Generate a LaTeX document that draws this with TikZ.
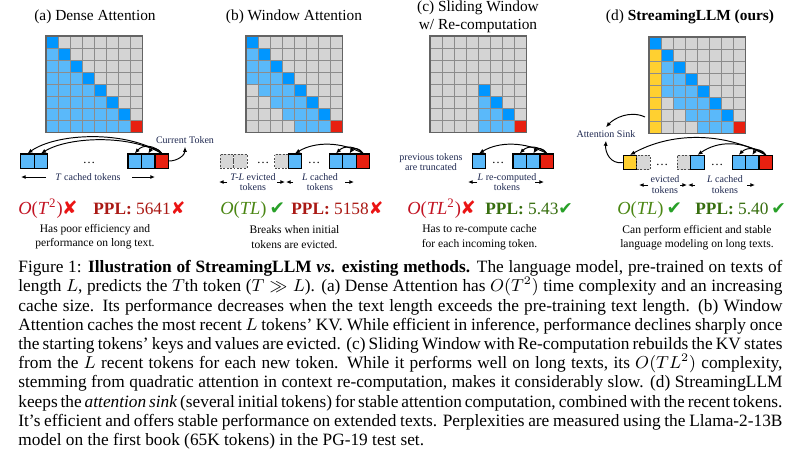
\documentclass[tikz,border=0pt]{standalone}
\usepackage[no-math]{fontspec}
\setmainfont{Liberation Serif}
\newfontfamily\symfont{DejaVu Sans}
\usetikzlibrary{arrows.meta}

\definecolor{cD}{RGB}{0,150,255}
\definecolor{cL}{RGB}{90,185,250}
\definecolor{cG}{RGB}{212,212,212}
\definecolor{cR}{RGB}{232,32,16}
\definecolor{cY}{RGB}{255,208,48}
\definecolor{gridline}{RGB}{140,140,140}
\definecolor{gridborder}{RGB}{100,100,100}
\definecolor{lbl}{RGB}{30,40,80}
\definecolor{badO}{RGB}{195,20,35}
\definecolor{badP}{RGB}{170,25,20}
\definecolor{xred}{RGB}{235,20,20}
\definecolor{goodO}{RGB}{75,135,20}
\definecolor{goodP}{RGB}{55,110,15}
\definecolor{tick}{RGB}{40,160,40}
\definecolor{evgrey}{RGB}{215,215,215}

\newcommand\drawgrid[3]{%
  \foreach \gi in {0,...,7}{%
    \foreach \gj in {0,...,7}{%
      \pgfmathtruncatemacro\gdiff{\gi-\gj}%
      \def\gc{cG}%
      \ifnum\gdiff=0 \def\gc{cD}\fi
      \if#1a\ifnum\gdiff>0 \def\gc{cL}\fi\fi
      \if#1b\ifnum\gdiff>0 \ifnum\gdiff<4 \def\gc{cL}\fi\fi\fi
      \if#1c\ifnum\gj<4 \def\gc{cG}\else\ifnum\gdiff>0 \def\gc{cL}\fi\fi\fi
      \if#1d\ifnum\gdiff>0 \ifnum\gdiff<4 \def\gc{cL}\fi\fi\ifnum\gj=0 \ifnum\gi>0 \def\gc{cY}\fi\fi\fi
      \ifnum\gi=7 \ifnum\gj=7 \def\gc{cR}\fi\fi
      \filldraw[fill=\gc,draw=gridline,line width=0.35pt] ({#2+\gj*12.1},{#3+\gi*12.1}) rectangle +(12.1,12.1);
    }%
  }%
  \draw[draw=gridborder,line width=0.6pt] (#2,#3) rectangle +(96.8,96.8);
}

\begin{document}
\begin{tikzpicture}[x=0.52pt,y=-0.52pt,
  title/.style={font=\fontsize{8}{9.3}\selectfont, align=center, inner sep=0pt},
  tok/.style={draw=black, line width=0.55pt, minimum width=7pt, minimum height=7.3pt, inner sep=0pt},
  evict/.style={draw=black!70, dash pattern=on 1pt off 0.8pt, line width=0.5pt, fill=evgrey, minimum width=7pt, minimum height=7.3pt, inner sep=0pt},
  lab/.style={font=\fontsize{5.2}{5.6}\selectfont, text=lbl, align=center, inner sep=0pt},
  dotsn/.style={font=\fontsize{6.5}{6.5}\selectfont, inner sep=0pt, anchor=base},
  desc/.style={font=\fontsize{6}{7.6}\selectfont, align=center, inner sep=0pt},
  metric/.style={font=\fontsize{9}{10}\selectfont, inner sep=0pt, anchor=base west},
  bigo/.style={font=\fontsize{9.6}{10}\selectfont, inner sep=0pt, anchor=base west},
  arc/.style={-{Latex[length=2.6pt,width=2.2pt]}, line width=0.5pt},
  lblarrow/.style={-{Latex[length=2.4pt,width=2pt]}, line width=0.5pt}
]
\fill[white] (0,0) rectangle (799,456);
\useasboundingbox (0,0) rectangle (799,456);

% titles
\node[title] (ta) at (95,17) {(a) Dense Attention};
\node[title] (tb) at (294,17) {(b) Window Attention};
\node[title] (tc) at (478,17) {(c) Sliding Window\\w/ Re-computation};
\node[title] (td) at (690,17) {(d) \textbf{StreamingLLM (ours)}};

% grids
\drawgrid{a}{46}{36}
\drawgrid{b}{246}{36}
\drawgrid{c}{430}{36}
\drawgrid{d}{649}{37}

% ---------- (a) tokens
\node[tok,fill=cL] (a1) at (27.5,161) {};
\node[tok,fill=cL] (a2) at (41,161) {};
\node[dotsn] (adots) at (89,163.5) {…};
\node[tok,fill=cL] (a3) at (134.75,161) {};
\node[tok,fill=cL] (a4) at (148.25,161) {};
\node[tok,fill=cR] (ar) at (161.75,161) {};
\draw[arc] (ar.north) .. controls +(-35,-23) and +(30,-21) .. (a1.north);
\draw[arc] (ar.north) .. controls +(-32,-19) and +(28,-17) .. (a2.north);
\draw[arc] (ar.north) .. controls +(-8,-9) and +(8,-9) .. (a3.north);
\draw[arc] (ar.north) .. controls +(-4,-6) and +(4,-6) .. (a4.north);
\node[lab,inner sep=1.5pt] (ctok) at (185,140) {Current Token};
\draw[arc] (ar.east) .. controls +(9,0) and +(0,8) .. (ctok.south);
\node[lab] (alab) at (88,177) {\textit{T} cached tokens};
\coordinate (aL1) at (46,177); \coordinate (aL2) at (21,177);
\coordinate (aR1) at (132,177); \coordinate (aR2) at (155,177);
\draw[lblarrow] (aL1) -- (aL2);
\draw[lblarrow] (aR1) -- (aR2);

% ---------- (b) tokens
\node[evict] (be1) at (226.75,161) {};
\node[evict] (be2) at (240.25,161) {};
\node[dotsn] (bdots1) at (263,163.5) {…};
\node[evict] (be3) at (281.5,161) {};
\node[tok,fill=cL] (bs) at (295,161) {};
\node[dotsn] (bdots2) at (314,163.5) {…};
\node[tok,fill=cL] (b3) at (336,161) {};
\node[tok,fill=cL] (b4) at (349.5,161) {};
\node[tok,fill=cR] (br) at (363,161) {};
\draw[arc] (br.north) .. controls +(-22,-12) and +(20,-12) .. (bs.north);
\draw[arc] (br.north) .. controls +(-8,-8) and +(8,-8) .. (b3.north);
\draw[arc] (br.north) .. controls +(-4,-6) and +(4,-6) .. (b4.north);
\node[lab] (blab1) at (253,182) {\textit{T-L} evicted\\tokens};
\node[lab] (blab2) at (320,182) {\textit{L} cached\\tokens};
\coordinate (bA1) at (227,182); \coordinate (bA2) at (219,182);
\coordinate (bA3) at (277,182); \coordinate (bA4) at (285,182);
\coordinate (bA5) at (293,182); \coordinate (bA6) at (286,182);
\coordinate (bA7) at (345,182); \coordinate (bA8) at (354,182);
\draw[lblarrow] (bA1) -- (bA2);
\draw[lblarrow] (bA3) -- (bA4);
\draw[lblarrow] (bA5) -- (bA6);
\draw[lblarrow] (bA7) -- (bA8);

% ---------- (c) tokens
\node[lab] (clabp) at (431,162) {previous tokens\\are truncated};
\node[tok,fill=cL] (c1) at (479,161) {};
\node[dotsn] (cdots) at (498,163.5) {…};
\node[tok,fill=cL] (c3) at (519.75,161) {};
\node[tok,fill=cL] (c4) at (533.25,161) {};
\node[tok,fill=cR] (cr) at (546.75,161) {};
\draw[arc] (cr.north) .. controls +(-22,-12) and +(20,-12) .. (c1.north);
\draw[arc] (cr.north) .. controls +(-8,-8) and +(8,-8) .. (c3.north);
\draw[arc] (cr.north) .. controls +(-4,-6) and +(4,-6) .. (c4.north);
\node[lab] (clab) at (507,182) {\textit{L} re-computed\\tokens};
\coordinate (cA1) at (477,182); \coordinate (cA2) at (468,182);
\coordinate (cA3) at (535,182); \coordinate (cA4) at (544,182);
\draw[lblarrow] (cA1) -- (cA2);
\draw[lblarrow] (cA3) -- (cA4);

% ---------- (d) tokens
\node[tok,fill=cY] (dy) at (630,162.5) {};
\node[evict] (de1) at (643.5,162.5) {};
\node[dotsn] (ddots1) at (662,165) {…};
\node[evict] (de2) at (684,162.5) {};
\node[tok,fill=cL] (ds) at (697.5,162.5) {};
\node[dotsn] (ddots2) at (717,165) {…};
\node[tok,fill=cL] (d3) at (738.75,162.5) {};
\node[tok,fill=cL] (d4) at (752.25,162.5) {};
\node[tok,fill=cR] (dr) at (765.75,162.5) {};
\draw[arc] (dr.north) .. controls +(-45,-24) and +(40,-22) .. (dy.north);
\draw[arc] (dr.north) .. controls +(-24,-15) and +(20,-14) .. (ds.north);
\draw[arc] (dr.north) .. controls +(-8,-8) and +(8,-8) .. (d3.north);
\draw[arc] (dr.north) .. controls +(-4,-6) and +(4,-6) .. (d4.north);
\node[lab,inner sep=1.5pt] (asink) at (606,134) {Attention Sink};
\coordinate (gsrc) at (645,117);
\draw[arc] (gsrc) .. controls +(-15,-7) and +(8,-9) .. (asink.north);
\draw[arc] (dy.west) .. controls +(-12,2) and +(-1,12) .. (asink.south);
\node[lab] (dlab1) at (665,184.5) {evicted\\tokens};
\node[lab] (dlab2) at (725,184.5) {\textit{L} cached\\tokens};
\coordinate (dA1) at (648,185); \coordinate (dA2) at (639,185);
\coordinate (dA3) at (680,185); \coordinate (dA4) at (687,185);
\coordinate (dA5) at (695,185); \coordinate (dA6) at (688,185);
\coordinate (dA7) at (747,185); \coordinate (dA8) at (755,185);
\draw[lblarrow] (dA1) -- (dA2);
\draw[lblarrow] (dA3) -- (dA4);
\draw[lblarrow] (dA5) -- (dA6);
\draw[lblarrow] (dA7) -- (dA8);

% ---------- metrics
\node[bigo] (ma1) at (18,214) {\color{badO}\textit{O}(\textit{T}\textsuperscript{2})\kern-0.3pt{\symfont\color{xred}✘}};
\node[metric] (ma2) at (93,214) {\color{badP}\textbf{PPL:} 5641{\symfont\color{xred}✘}};
\node[bigo] (mb1) at (220,214) {\color{goodO}\textit{O}(\textit{TL})\,{\symfont\color{tick}✔}};
\node[metric] (mb2) at (291,214) {\color{badP}\textbf{PPL:} 5158{\symfont\color{xred}✘}};
\node[bigo] (mc1) at (407,214) {\color{badO}\textit{O}(\textit{TL}\textsuperscript{2})\kern-0.3pt{\symfont\color{xred}✘}};
\node[metric] (mc2) at (485,214) {\color{goodP}\textbf{PPL:} 5.43{\symfont\color{tick}✔}};
\node[bigo] (md1) at (617,214) {\color{goodO}\textit{O}(\textit{TL})\,{\symfont\color{tick}✔}};
\node[metric] (md2) at (695,214) {\color{goodP}\textbf{PPL:} 5.40\,{\symfont\color{tick}✔}};

% ---------- descriptions
\node[desc] (da) at (95,236.5) {Has poor efficiency and\\performance on long text.};
\node[desc] (db) at (294.5,237) {Breaks when initial\\tokens are evicted.};
\node[desc] (dc) at (479.5,237.5) {Has to re-compute cache\\for each incoming token.};
\node[desc] (dd) at (697,237.5) {Can perform efficient and stable\\language modeling on long texts.};

% ---------- caption
\node[anchor=north west, inner sep=0pt, text width=397.3pt, align=justify,
      font=\fontsize{9}{10}\selectfont] (cap) at (18,260)
{\hyphenpenalty=10000 \tolerance=10000 \relax
Figure 1: \textbf{Illustration of StreamingLLM \textit{vs}. existing methods.} The language model, pre-trained on texts of\linebreak
length $L$, predicts the $T$th token ($T \gg L$). (a) Dense Attention has $O(T^2)$ time complexity and an increasing\linebreak
cache size. Its performance decreases when the text length exceeds the pre-training text length. (b) Window\linebreak
Attention caches the most recent $L$ tokens' KV. While efficient in inference, performance declines sharply once\linebreak
the starting tokens' keys and values are evicted. (c) Sliding Window with Re-computation rebuilds the KV states\linebreak
from the $L$ recent tokens for each new token. While it performs well on long texts, its $O(TL^2)$ complexity,\linebreak
stemming from quadratic attention in context re-computation, makes it considerably slow. (d) StreamingLLM\linebreak
keeps the \textit{attention sink} (several initial tokens) for stable attention computation, combined with the recent tokens.\linebreak
It's efficient and offers stable performance on extended texts. Perplexities are measured using the Llama-2-13B\linebreak
model on the first book (65K tokens) in the PG-19 test set.};
\end{tikzpicture}
\end{document}
